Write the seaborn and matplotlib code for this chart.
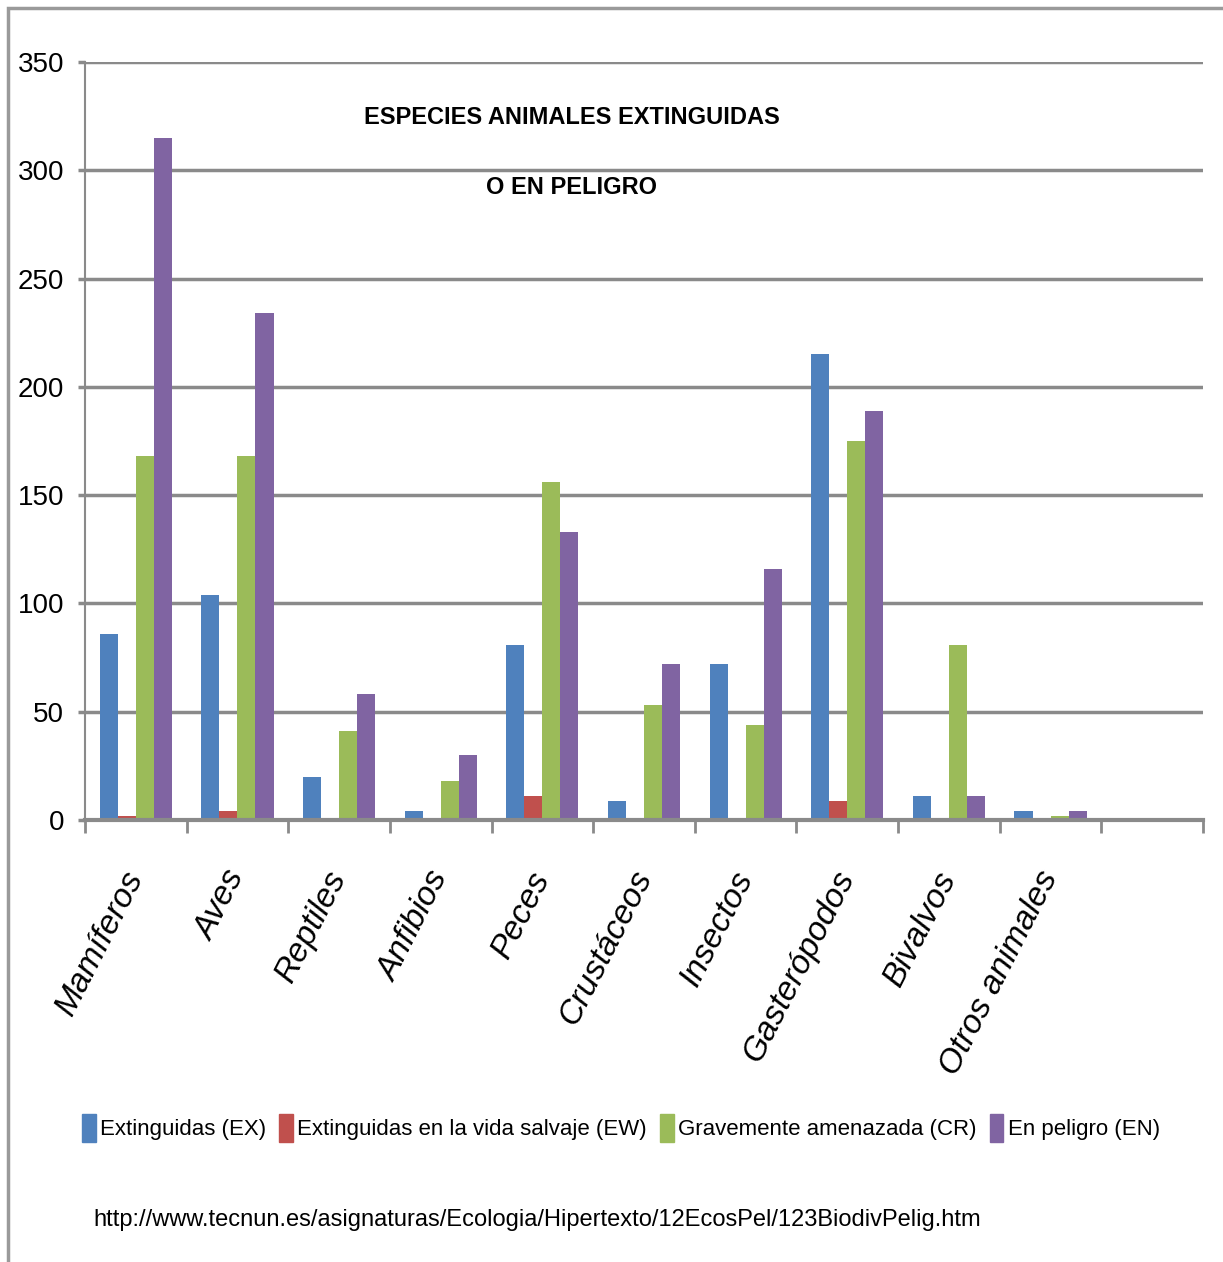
import matplotlib
matplotlib.use("Agg")
import matplotlib.pyplot as plt
import matplotlib.patches as mpatches
import seaborn as sns
import pandas as pd
import numpy as np

# datos
grupos = ['Mamíferos', 'Aves', 'Reptiles', 'Anfibios', 'Peces', 'Crustáceos',
          'Insectos', 'Gasterópodos', 'Bivalvos', 'Otros animales']
estados = ['Extinguidas (EX)', 'Extinguidas en la vida salvaje (EW)',
           'Gravemente amenazada (CR)', 'En peligro (EN)']
ex = [86, 104, 20, 4, 81, 9, 72, 215, 11, 4]
ew = [2, 4, 0.4, 0, 11, 0.4, 0.4, 9, 0, 0]
cr = [168, 168, 41, 18, 156, 53, 44, 175, 81, 2]
en = [315, 234, 58, 30, 133, 72, 116, 189, 11, 4]
colores = ['#4F81BD', '#C0504D', '#9BBB59', '#8064A2']

filas = []
for estado, serie in zip(estados, [ex, ew, cr, en]):
    for g, v in zip(grupos, serie):
        filas.append({'grupo': g, 'estado': estado, 'valor': v})
df = pd.DataFrame(filas)

sns.set_theme(style='white')
plt.rcParams['font.family'] = ['Liberation Sans', 'DejaVu Sans']

fig = plt.figure(figsize=(12.23, 12.62), dpi=100)
ax = fig.add_axes([85 / 1223, 1 - 820 / 1262, (1203 - 85) / 1223, (820 - 62) / 1262])

sns.barplot(data=df, x='grupo', y='valor', hue='estado', order=grupos,
            hue_order=estados, palette=colores, width=0.71, saturation=1,
            linewidth=0, ax=ax, legend=False)

gris = '#8a8a8a'
ax.set_xlim(-0.5, 10.5)
ax.set_ylim(0, 350)
ax.set_yticks(np.arange(0, 351, 50))
ax.yaxis.grid(True, color=gris, lw=2.5)
ax.set_axisbelow(True)
ax.set_xlabel('')
ax.set_ylabel('')
for s in ['top', 'right']:
    ax.spines[s].set_visible(False)
ax.spines['left'].set_color(gris)
ax.spines['left'].set_linewidth(1.5)
ax.spines['bottom'].set_color(gris)
ax.spines['bottom'].set_linewidth(3)

ax.tick_params(axis='y', left=True, length=5, width=2.5, color=gris, labelsize=20,
               pad=10, labelcolor='black')
ax.set_xticks(np.arange(-0.5, 10.6, 1), minor=True)
ax.tick_params(axis='x', which='minor', bottom=True, length=9, width=2, color=gris)
ax.tick_params(axis='x', which='major', bottom=False, pad=32)
ax.set_xticks(range(len(grupos)))
ax.set_xticklabels(grupos, rotation=63, ha='right', va='center',
                   rotation_mode='anchor', fontsize=24, style='italic', color='black')

titulo_x = (572 - 85) / 1118
ax.text(titulo_x, (820 - 118) / 758, 'ESPECIES ANIMALES EXTINGUIDAS', transform=ax.transAxes,
        ha='center', va='center', fontsize=17, fontweight='bold', color='black')
ax.text(titulo_x, (820 - 187) / 758, 'O EN PELIGRO', transform=ax.transAxes,
        ha='center', va='center', fontsize=17, fontweight='bold', color='black')

handles = [mpatches.Patch(color=c, label=e) for c, e in zip(colores, estados)]
fig.legend(handles=handles, loc='center', bbox_to_anchor=(621 / 1223, 1 - 1128 / 1262),
           ncol=4, frameon=False, fontsize=16, handlelength=0.6, handleheight=1.5,
           handletextpad=0.2, columnspacing=0.6, labelcolor='black')

fig.text(93 / 1223, 1 - 1220 / 1262,
         'http://www.tecnun.es/asignaturas/Ecologia/Hipertexto/12EcosPel/123BiodivPelig.htm',
         ha='left', va='center', fontsize=17, color='black')

marco = mpatches.Rectangle((8 / 1223, -0.05), 1.1, 1 - 8 / 1262 + 0.05, transform=fig.transFigure,
                           fill=False, edgecolor='#9a9a9a', lw=2.5, clip_on=False)
fig.patches.append(marco)

fig.savefig('out.png', dpi=100)
